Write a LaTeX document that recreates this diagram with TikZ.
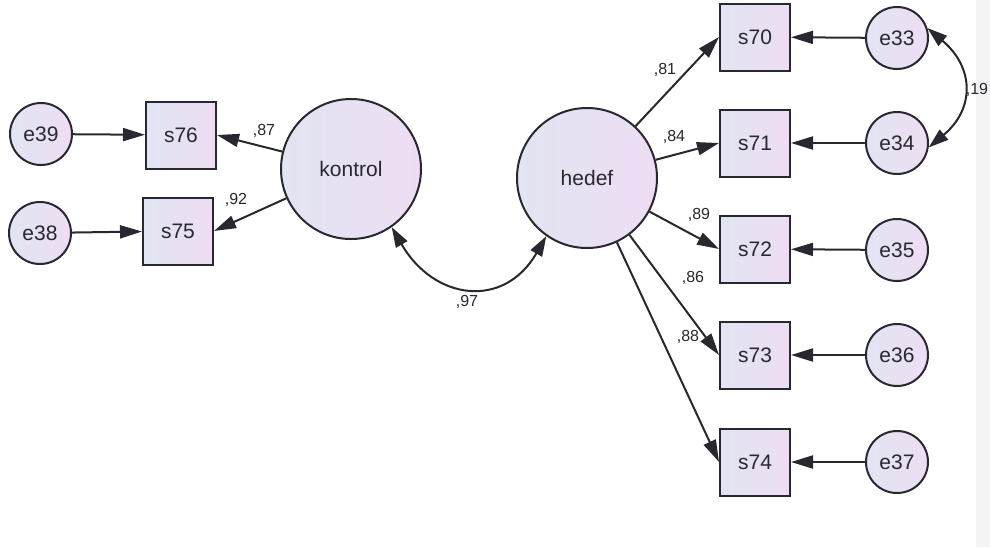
\documentclass[tikz,border=0pt]{standalone}
\usepackage{fontspec}
\setmainfont{Liberation Sans}
\usetikzlibrary{arrows.meta}
\definecolor{fillL}{RGB}{226,229,242}
\definecolor{fillR}{RGB}{238,221,244}
\definecolor{ink}{RGB}{40,40,48}
\definecolor{strip}{RGB}{243,243,243}
\tikzset{
  obs/.style={draw=ink, line width=2pt, rectangle, minimum width=70pt, minimum height=67pt,
    left color=fillL, right color=fillR, font=\fontsize{21}{21}\selectfont, text=ink},
  err/.style={draw=ink, line width=2pt, circle, minimum size=62pt, inner sep=0pt,
    left color=fillL, right color=fillR, font=\fontsize{21}{21}\selectfont, text=ink},
  lat/.style={draw=ink, line width=2pt, circle, minimum size=140pt, inner sep=0pt,
    left color=fillL, right color=fillR, font=\fontsize{21}{21}\selectfont, text=ink},
  path/.style={draw=ink, line width=2pt, -{Triangle[length=22pt,width=13pt]}},
  cov/.style={draw=ink, line width=2pt, {Triangle[length=20pt,width=13pt]}-{Triangle[length=20pt,width=13pt]}},
  coef/.style={font=\fontsize{16}{16}\selectfont, text=ink, inner sep=0pt},
}
\begin{document}
\begin{tikzpicture}[x=1pt,y=-1pt]
  % canvas and grey margin strip
  \fill[white] (0,0) rectangle (990,547);
  \fill[strip] (976,0) rectangle (990,547);
  \useasboundingbox (0,0) rectangle (990,547);

  % latent factors
  \node[lat] (kontrol) at (351,169) {kontrol};
  \node[lat] (hedef) at (587,178) {hedef};

  % kontrol indicators
  \node[obs] (s76) at (181,135) {s76};
  \node[obs] (s75) at (178,231) {s75};
  \node[err] (e39) at (41,134) {e39};
  \node[err] (e38) at (40,233) {e38};

  % hedef indicators
  \node[obs] (s70) at (755,37) {s70};
  \node[obs] (s71) at (755,143) {s71};
  \node[obs] (s72) at (755,249) {s72};
  \node[obs] (s73) at (755,355) {s73};
  \node[obs] (s74) at (755,462) {s74};
  \node[err] (e33) at (897,38) {e33};
  \node[err] (e34) at (897,143) {e34};
  \node[err] (e35) at (897,250) {e35};
  \node[err] (e36) at (897,355) {e36};
  \node[err] (e37) at (897,462) {e37};

  % error terms
  \draw[path] (e39) -- (s76);
  \draw[path] (e38) -- (s75);
  \draw[path] (e33) -- (s70);
  \draw[path] (e34) -- (s71);
  \draw[path] (e35) -- (s72);
  \draw[path] (e36) -- (s73);
  \draw[path] (e37) -- (s74);

  % loadings
  \draw[path] (kontrol) -- (s76.east);
  \draw[path] (kontrol) -- (s75.east);
  \draw[path] (hedef) -- (s70.west);
  \draw[path] (hedef) -- (s71.west);
  \draw[path] (hedef) -- (s72.west);
  \draw[path] (hedef) -- (s73.west);
  \draw[path] (hedef) -- (s74.west);

  % covariances
  \draw[cov] (kontrol.-55) to[out=-60,in=-120,looseness=1.4] (hedef.-125);
  \draw[cov] (e33.18) to[out=-40,in=40,looseness=1.3] (e34.-8);

  % coefficients
  \node[coef] (c87) at (264,131) {,87};
  \node[coef] (c92) at (236,200) {,92};
  \node[coef] (c97) at (467,302) {,97};
  \node[coef] (c81) at (665,70) {,81};
  \node[coef] (c84) at (674,137) {,84};
  \node[coef] (c89) at (699,215) {,89};
  \node[coef] (c86) at (693,278) {,86};
  \node[coef] (c88) at (688,337) {,88};
  \node[coef] (c19) at (977,90) {,19};
\end{tikzpicture}
\end{document}
